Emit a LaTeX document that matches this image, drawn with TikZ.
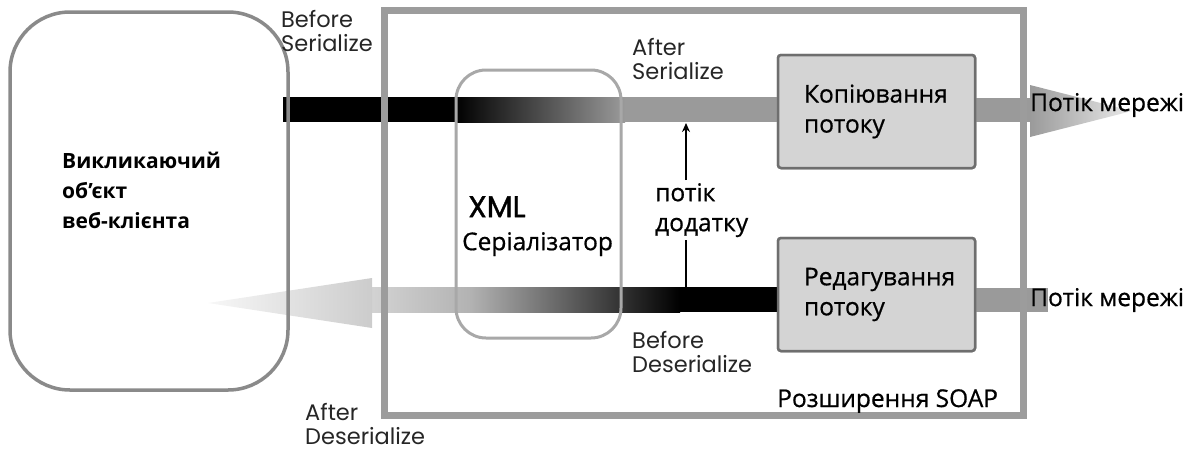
\documentclass[tikz,border=0pt]{standalone}
\usepackage{fontspec}
\setmainfont{Open Sans}
\newfontfamily\semi{Open Sans}[FakeBold=0.7]
\newfontfamily\comic{Poppins}
\newfontfamily\comicb{Poppins}[FakeBold=1.2]
\usetikzlibrary{arrows.meta}
\definecolor{bandgray}{HTML}{9A9A9A}
\definecolor{boxfill}{HTML}{D4D4D4}
\definecolor{boxline}{HTML}{6E6E6E}
\definecolor{soapline}{HTML}{9C9C9C}
\definecolor{xmlline}{HTML}{A8A8A8}
\definecolor{clientline}{HTML}{8A8A8A}
\definecolor{lbl}{HTML}{262626}
\begin{document}
\begin{tikzpicture}[x=1pt,y=-1pt,
  procbox/.style={draw=boxline,line width=2.5pt,fill=boxfill,rounded corners=3pt,
    minimum width=197pt,minimum height=113pt,align=left,text width=145pt,
    inner xsep=26pt,font=\semi\fontsize{24.5}{30}\selectfont},
  stagelbl/.style={anchor=north west,inner sep=0pt,align=left,text=lbl,
    font=\comic\fontsize{22.5}{24}\selectfont},
  cyr/.style={inner sep=0pt,align=left,text=black,font=\semi\fontsize{24.5}{30}\selectfont}]
\useasboundingbox (0,0) rectangle (1199,450);

% boxes (positions)
\node[procbox] (copy) at (876.5,111.5) {Копіювання\\потоку};
\node[procbox] (edit) at (876.5,294.5) {Редагування\\потоку};

% top band (serialize direction)
\fill[black] (283,97) rectangle (455,122);
\shade[left color=black,right color=bandgray] (455,97) rectangle (625,122);
\fill[bandgray] (625,97) rectangle (copy.west |- 0,122);
\fill[bandgray] (copy.east |- 0,98) rectangle (1032,122);
\shade[left color=bandgray,right color=white!92!black] (1030,85) -- (1132,111) -- (1030,137) -- cycle;

% bottom band (deserialize direction)
\fill[black] (680,287) rectangle (edit.west |- 0,312);
\shade[left color=gray!60,right color=black] (470,287) rectangle (680,312);
\shade[left color=gray!35,right color=gray!60] (372,287) rectangle (470,312);
\shade[left color=white!97!black,right color=gray!40] (208,303) -- (372,278) -- (372,328) -- cycle;
\fill[bandgray] (edit.east |- 0,288) rectangle (1048,312);

% redraw boxes on top
\node[procbox] at (copy) {Копіювання\\потоку};
\node[procbox] at (edit) {Редагування\\потоку};

% client box
\draw[clientline,line width=3.5pt,rounded corners=60pt] (10,12) rectangle (288,390);
\node[cyr,anchor=north west,font=\bfseries\fontsize{21}{30}\selectfont] (client) at (62,152)
  {Викликаючий\\об’єкт\\веб-клієнта};

% SOAP extension box
\draw[soapline,line width=7pt] (384,10) rectangle (1023,415);
\node[cyr,anchor=base west] (soap) at (777,407) {Розширення SOAP};

% XML serializer box
\draw[xmlline,line width=3pt,rounded corners=30pt] (456,70) rectangle (621,338);
\node[anchor=north west,inner sep=0pt,text=black,font=\comicb\fontsize{30}{30}\selectfont] (xml) at (468,196) {XML};
\node[cyr,anchor=north west] (ser) at (462,232) {Серіалізатор};

% application stream arrows
\node[cyr,anchor=north west,inner sep=3pt] (app) at (652,180) {потік\\додатку};
\coordinate (upTip) at (686,123);
\coordinate (downTip) at (686,307);
\draw[line width=2pt,-{Stealth[length=9pt,width=8pt]}] (app.north -| upTip) -- (upTip);
\draw[line width=2pt,-{Stealth[length=9pt,width=8pt]}] (app.south -| downTip) -- (downTip);

% network stream labels
\node[cyr,anchor=west] (net1) at (1030,105) {Потік мережі};
\node[cyr,anchor=west] (net2) at (1030,300) {Потік мережі};

% stage labels
\node[stagelbl] (bs) at (281,10) {Before\\Serialize};
\node[stagelbl] (as) at (632,38) {After\\Serialize};
\node[stagelbl] (bd) at (632,331) {Before\\Deserialize};
\node[stagelbl] (ad) at (305,403) {After\\Deserialize};
\end{tikzpicture}
\end{document}
